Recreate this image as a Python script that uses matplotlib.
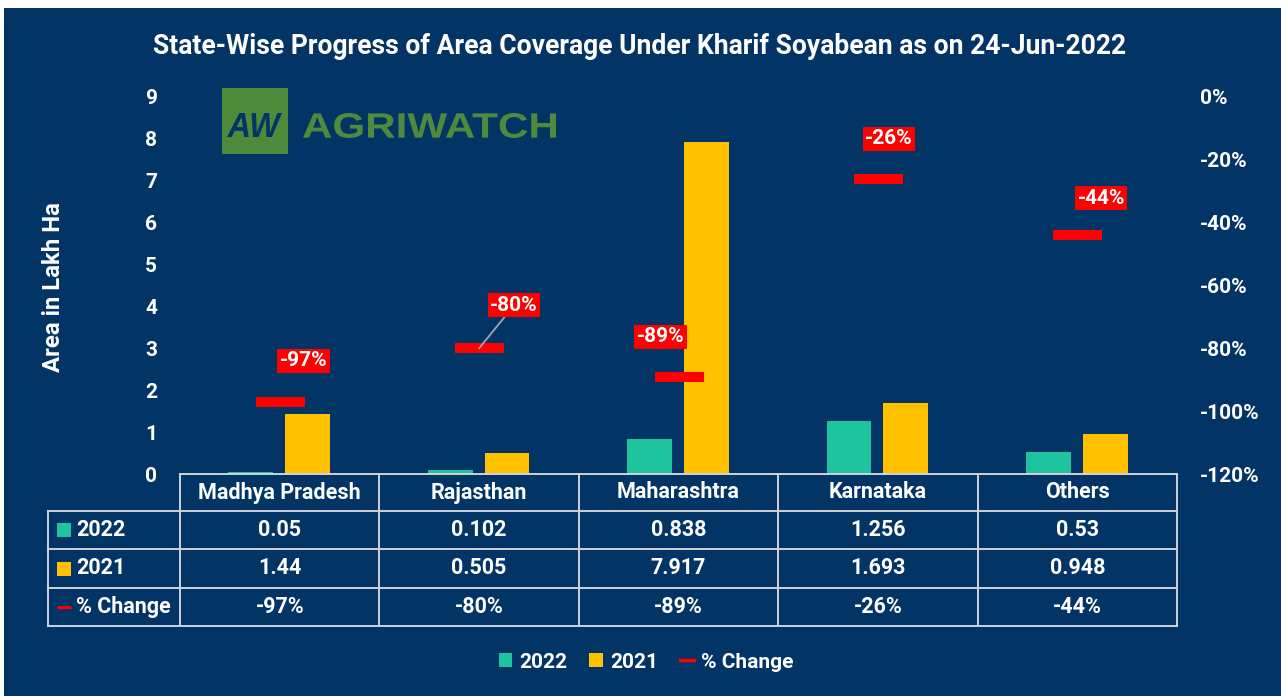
import matplotlib
matplotlib.use("Agg")
import matplotlib.pyplot as plt
from matplotlib.patches import Rectangle, Patch, PathPatch
from matplotlib.lines import Line2D
from matplotlib.textpath import TextPath
from matplotlib.font_manager import FontProperties
import matplotlib.transforms as mtransforms

# ---------------- data ----------------
states = ["Madhya Pradesh", "Rajasthan", "Maharashtra", "Karnataka", "Others"]
area_2022 = [0.05, 0.102, 0.838, 1.256, 0.53]
area_2021 = [1.44, 0.505, 7.917, 1.693, 0.948]
pct_change = [-97, -80, -89, -26, -44]
left_ticks = [0, 1, 2, 3, 4, 5, 6, 7, 8, 9]
right_ticks = [-120, -100, -80, -60, -40, -20, 0]
series_names = ["2022", "2021", "% Change"]
title = "State-Wise Progress of Area Coverage Under Kharif Soyabean as on 24-Jun-2022"

# ---------------- style ----------------
label_offsets = [(24, 41), (35, 43), (-18, 40), (11, 40), (24, 37)]  # pixels
leader = [False, True, False, False, False]

NAVY = "#023466"
GREEN = "#1dc49e"
YELLOW = "#ffc000"
RED = "#ff0000"
GRID = "#cfd3d8"
LOGO = "#4f8a3c"
FONT = ["Roboto", "DejaVu Sans"]
TS = 15.5  # table font size

plt.rcParams['font.family'] = FONT
plt.rcParams['font.weight'] = 'bold'

W, H = 1281, 696
fig = plt.figure(figsize=(W / 100, H / 100), dpi=100, facecolor='white')
fig.patches.append(Rectangle((4 / W, 0), 1 - 4 / W, (H - 8) / H, transform=fig.transFigure,
                             facecolor=NAVY, edgecolor='none', zorder=-10))

ax = fig.add_axes([180 / W, (H - 474) / H, 997 / W, 377 / H])
ax.set_facecolor('none')
for s in ax.spines.values():
    s.set_visible(False)

xs = list(range(len(states)))
bw = 0.225
ax.bar([i - 0.145 for i in xs], area_2022, width=bw, color=GREEN, zorder=2)
ax.bar([i + 0.14 for i in xs], area_2021, width=bw, color=YELLOW, zorder=2)
ax.set_xlim(-0.5, len(states) - 0.5)
ax.set_ylim(0, 9)
ax.set_yticks(left_ticks)
ax.set_xticks([])
ax.tick_params(axis='y', length=0, pad=16.5, labelsize=15, labelcolor='white')
for t in ax.get_yticklabels():
    t.set_fontweight('bold')

ax2 = ax.twinx()
for s in ax2.spines.values():
    s.set_visible(False)
ax2.set_ylim(-120, 0)
ax2.set_yticks(right_ticks)
ax2.set_yticklabels([f"{t}%" for t in right_ticks], fontweight='bold')
ax2.tick_params(axis='y', length=0, pad=16.5, labelsize=15, labelcolor='white')
ax2.plot(xs, pct_change, linestyle='none', marker='_', ms=49 * 0.72, mew=10 * 0.72,
         color=RED, zorder=3)

for i, (p, (dx, dy), ld) in enumerate(zip(pct_change, label_offsets, leader)):
    kw = {}
    if ld:
        kw['arrowprops'] = dict(arrowstyle='-', color='#a6a6a6', lw=1.3, shrinkA=0, shrinkB=0)
    ax2.annotate(f"{p}%", xy=(i, p), xytext=(dx, dy), textcoords='offset pixels',
                 ha='center', va='center', fontsize=15, color='white', fontweight='bold',
                 bbox=dict(boxstyle='square,pad=0.12', facecolor=RED, edgecolor='none'),
                 zorder=5, **kw)

fig.text(54 / W, 1 - 287 / H, "Area in Lakh Ha", rotation=90, ha='center', va='center',
         color='white', fontsize=17.3, fontweight='bold')

fig.text(640 / W, 1 - 47 / H, title, ha='center', va='center', color='white',
         fontsize=19.1, fontweight='bold')

# ---------------- data table ----------------
trans = mtransforms.blended_transform_factory(ax.transData, ax.transAxes)
px_per_cat = 997 / len(states)
lab_left = -0.5 - 132 / px_per_cat
row_px = [474, 511, 549, 588, 626]
row_y = [-(p - 474) / 377 for p in row_px]
right = len(states) - 0.5


def hline(x0, x1, y):
    ax.add_line(Line2D([x0, x1], [y, y], transform=trans, color=GRID, lw=1.4, clip_on=False))


def vline(x, y0, y1):
    ax.add_line(Line2D([x, x], [y0, y1], transform=trans, color=GRID, lw=1.4, clip_on=False))


hline(-0.5, right, row_y[0])
for y in row_y[1:]:
    hline(lab_left, right, y)
vline(lab_left, row_y[1], row_y[-1])
for k in range(len(states) + 1):
    vline(k - 0.5, row_y[0], row_y[-1])

for i, st in enumerate(states):
    ax.text(i, (row_y[0] + row_y[1]) / 2, st, transform=trans, ha='center', va='center',
            color='white', fontsize=TS, fontweight='bold')

row_vals = [[f"{v:g}" for v in area_2022], [f"{v:g}" for v in area_2021],
            [f"{v}%" for v in pct_change]]
row_markers = [('s', GREEN, 9.5, 0), ('s', YELLOW, 9.5, 0), ('_', RED, 9.5, 2.3)]
mark_x = -0.5 - (180 - 63.5) / px_per_cat
text_x = -0.5 - (180 - 76) / px_per_cat
for r in range(3):
    yc = (row_y[r + 1] + row_y[r + 2]) / 2
    m, c, ms, mew = row_markers[r]
    ax.plot([mark_x], [yc], transform=trans, marker=m, color=c, ms=ms, mew=mew,
            linestyle='none', clip_on=False)
    ax.text(text_x, yc, series_names[r], transform=trans, ha='left', va='center',
            color='white', fontsize=TS, fontweight='bold')
    for i, v in enumerate(row_vals[r]):
        ax.text(i, yc, v, transform=trans, ha='center', va='center', color='white',
                fontsize=TS, fontweight='bold')

# ---------------- legend ----------------
handles = [Patch(facecolor=GREEN, edgecolor='none'), Patch(facecolor=YELLOW, edgecolor='none'),
           Line2D([], [], color=RED, lw=2.5)]
fig.legend(handles, series_names, loc='center', bbox_to_anchor=(646 / W, 1 - 662 / H), ncol=3,
           frameon=False, prop=dict(size=15, weight='bold'), labelcolor='white',
           handlelength=0.65, handleheight=0.65, handletextpad=0.35, columnspacing=1.05)

# ---------------- logo ----------------
fig.patches.append(Rectangle((222 / W, (H - 154) / H), 66 / W, 66 / H, transform=fig.transFigure,
                             facecolor=LOGO, edgecolor='none', zorder=1))
logo_fp = FontProperties(family='Liberation Sans', weight='bold')
logo_it = FontProperties(family='Liberation Sans', weight='bold', style='italic')


def fitted_text(s, fp, x0, x1, ytop, ybase, color):
    # place text path so its extents fill [x0, x1] x [ytop, ybase] (pixel rows, top-down)
    tp = TextPath((0, 0), s, size=100, prop=fp)
    bb = tp.get_extents()
    sx = (x1 - x0) / bb.width
    sy = (ybase - ytop) / bb.height
    tr = mtransforms.Affine2D().translate(-bb.x0, -bb.y0).scale(sx, sy).translate(x0, H - ybase)
    fig.patches.append(PathPatch(tr.transform_path(tp), facecolor=color, edgecolor='none',
                                 transform=mtransforms.IdentityTransform(), zorder=2))


fitted_text("AW", logo_it, 227, 282, 113, 137, NAVY)
fitted_text("AGRIWATCH", logo_fp, 303, 556, 113, 138, LOGO)

fig.savefig("out.png", dpi=100, facecolor=fig.get_facecolor())
